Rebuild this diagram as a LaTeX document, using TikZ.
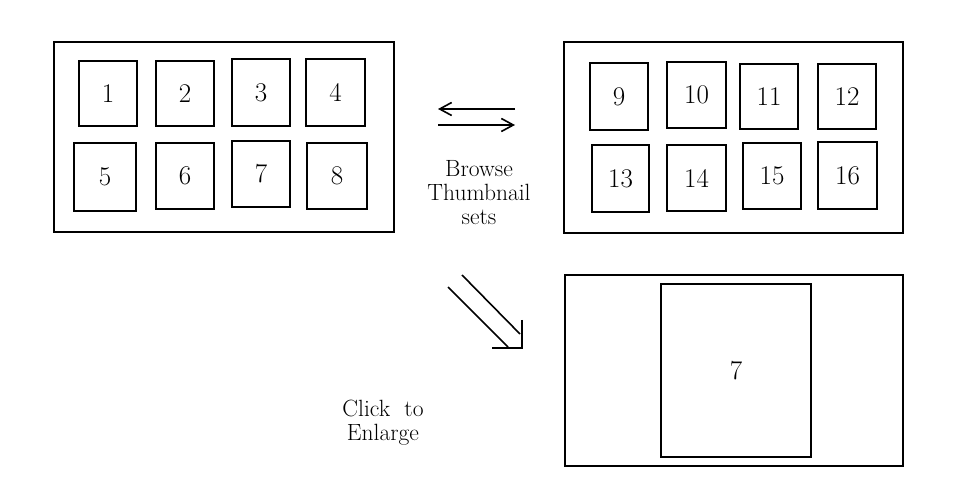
\documentclass[tikz,border=0pt]{standalone}
\usetikzlibrary{arrows.meta}
\begin{document}
\begin{tikzpicture}[x=1pt,y=-1pt,
  frame/.style={draw, line width=1.6pt, inner sep=0pt},
  thumb/.style={draw, line width=1.6pt, inner sep=0pt, font=\fontsize{27}{27}\selectfont},
  lbl/.style={align=center, font=\fontsize{23.5}{24}\selectfont, inner sep=0pt},
  arr/.style={line width=1.6pt, -{Straight Barb[length=12pt,width=13pt,line width=1.6pt]}}]
\useasboundingbox[fill=white] (0,0) rectangle (962,502);
% left frame
\node[frame, minimum width=340pt, minimum height=190pt] (fa) at (224,137) {};
\node[thumb, minimum width=58pt, minimum height=65pt] (t1) at (108,93.5) {1};
\node[thumb, minimum width=58pt, minimum height=65pt] (t2) at (185,93.5) {2};
\node[thumb, minimum width=58pt, minimum height=67pt] (t3) at (261,92.5) {3};
\node[thumb, minimum width=59pt, minimum height=67pt] (t4) at (335.5,92.5) {4};
\node[thumb, minimum width=62pt, minimum height=68pt] (t5) at (105,177) {5};
\node[thumb, minimum width=58pt, minimum height=66pt] (t6) at (185,176) {6};
\node[thumb, minimum width=58pt, minimum height=66pt] (t7) at (261,174) {7};
\node[thumb, minimum width=60pt, minimum height=66pt] (t8) at (337,176) {8};
% right frame
\node[frame, minimum width=339pt, minimum height=191pt] (fb) at (733.5,137.5) {};
\node[thumb, minimum width=58pt, minimum height=67pt] (t9) at (619,96.5) {9};
\node[thumb, minimum width=59pt, minimum height=66pt] (t10) at (696.5,95) {10};
\node[thumb, minimum width=58pt, minimum height=65pt] (t11) at (769,96.5) {11};
\node[thumb, minimum width=58pt, minimum height=65pt] (t12) at (847,96.5) {12};
\node[thumb, minimum width=57pt, minimum height=67pt] (t13) at (620.5,178.5) {13};
\node[thumb, minimum width=59pt, minimum height=66pt] (t14) at (696.5,178) {14};
\node[thumb, minimum width=58pt, minimum height=66pt] (t15) at (772,176) {15};
\node[thumb, minimum width=59pt, minimum height=67pt] (t16) at (847.5,175.5) {16};
% enlarged frame
\node[frame, minimum width=338pt, minimum height=191pt] (fc) at (734,370.5) {};
\node[thumb, minimum width=150pt, minimum height=173pt] (big) at (736,370.5) {7};
% browse arrows
\coordinate (ha1) at (515,109);
\coordinate (ha2) at (438,109);
\coordinate (hb1) at (438,125);
\coordinate (hb2) at (515,125);
\draw[arr] (ha1) -- (ha2);
\draw[arr] (hb1) -- (hb2);
\node[lbl] (browse) at (479,193) {Browse\\Thumbnail\\sets};
% enlarge arrow
\coordinate (d1) at (462,275);
\coordinate (d2) at (520,334);
\coordinate (d3) at (448,287);
\coordinate (d4) at (508,347);
\coordinate (dc) at (522,348);
\coordinate (dv) at (522,320);
\coordinate (dh) at (492,348);
\draw[line width=1.6pt] (d1) -- (d2);
\draw[line width=1.6pt] (d3) -- (d4);
\draw[line width=1.6pt] (dv) -- (dc) -- (dh);
\node[lbl] (click) at (383,423) {Click~ to\\Enlarge};
\end{tikzpicture}
\end{document}
